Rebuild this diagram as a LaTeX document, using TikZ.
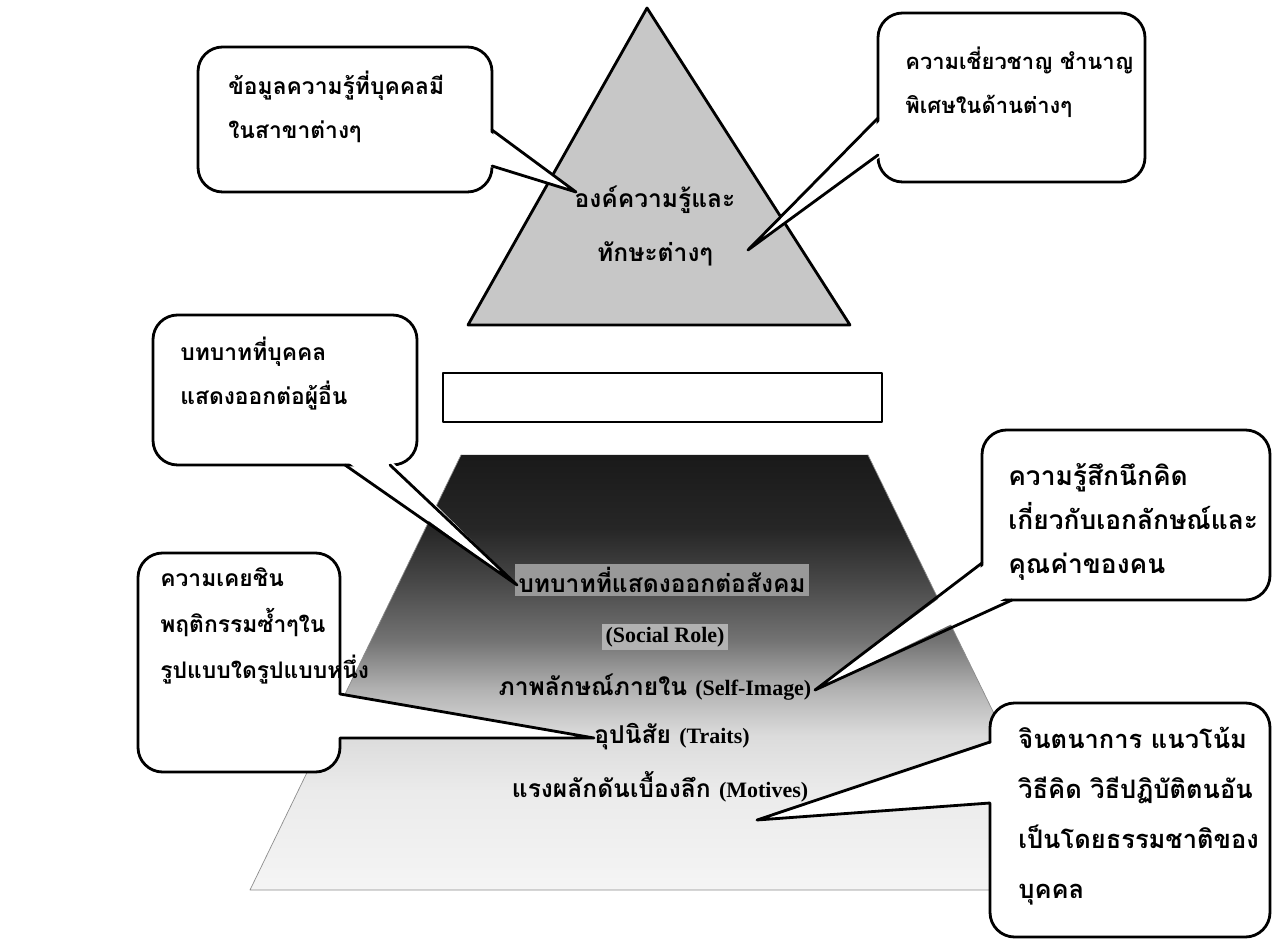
\documentclass[tikz,border=0pt]{standalone}
\usepackage{fontspec}
\setmainfont{Liberation Serif}
\newfontfamily\thaifont[Script=Thai]{Loma}
\pgfdeclareverticalshading{layers}{100bp}{color(0bp)=(black!4); color(25bp)=(black!4); color(36.5bp)=(black!8); color(42.8bp)=(black!14); color(48bp)=(black!30); color(53.7bp)=(black!55); color(60.5bp)=(black!72); color(66.5bp)=(black!85); color(75bp)=(black!90); color(100bp)=(black!90)}
\begin{document}
\begin{tikzpicture}[x=0.02cm,y=-0.02cm,line join=round,line cap=round]
	\tikzset{bubble/.style={draw,fill=white,line width=1.6pt,rounded corners=14pt},
		wedge/.style={line width=1.6pt},
		bubbletext/.style={font=\thaifont\bfseries\fontsize{#1}{25}\selectfont,align=left,anchor=west,inner sep=0pt},
		bubbletext/.default=14,
		layertext/.style={font=\thaifont\bfseries\fontsize{14}{20}\selectfont,inner sep=2pt}}
	\newcommand\eng[1]{{\rmfamily\fontsize{12.5}{14}\selectfont #1}}
	\useasboundingbox (0,0) rectangle (1285,945);
	% top triangle
	\draw[fill=black!22,line width=1.6pt] (647,8)--(850,325)--(468,325)--cycle;
	\node[layertext] (know) at (655,200) {องค์ความรู้และ};
	\node[layertext] (skill) at (655,254) {ทักษะต่างๆ};
	% empty bar
	\draw[line width=1.6pt] (443,373) rectangle (882,422);
	% lower layers
	\shade[shading=layers] (461,455)--(868,455)--(1080,890)--(250,890)--cycle;
	\draw[black!45,thin] (461,455)--(250,890)--(1080,890)--(868,455);
	\node[layertext,fill=black!40] (role) at (662,580) {บทบาทที่แสดงออกต่อสังคม};
	\node[layertext,fill=black!30] (social) at (665,637) {\eng{(Social Role)}};
	\node[layertext] (self) at (655,687) {ภาพลักษณ์ภายใน \eng{(Self-Image)}};
	\node[layertext] (trait) at (672,737) {อุปนิสัย \eng{(Traits)}};
	\node[layertext] (motive) at (660,787) {แรงผลักดันเบื้องลึก \eng{(Motives)}};
	% callout tips
	\coordinate (knowtip) at (576,192);
	\coordinate (skilltip) at (748,250);
	\coordinate (roletip) at (517,585);
	\coordinate (selftip) at (815,690);
	\coordinate (traittip) at (594,738);
	\coordinate (motivetip) at (757,820);
	% callout 1
	\draw[bubble] (198,47) rectangle (492,192);
	\fill[white] (487,130)--(knowtip)--(487,166)--cycle;
	\draw[wedge] (492,130)--(knowtip)--(492,166);
	% callout 2
	\draw[bubble] (878,13) rectangle (1145,182);
	\fill[white] (883,118)--(skilltip)--(883,155)--cycle;
	\draw[wedge] (878,118)--(skilltip)--(878,155);
	% callout 3
	\draw[bubble] (153,315) rectangle (417,465);
	\fill[white] (345,460)--(roletip)--(390,460)--cycle;
	\draw[wedge] (345,465)--(roletip)--(390,465);
	% callout 4
	\draw[bubble] (982,430) rectangle (1270,600);
	\fill[white] (987,563)--(selftip)--(1012,595)--cycle;
	\draw[wedge] (982,563)--(selftip)--(1012,600);
	% callout 5
	\draw[bubble] (138,553) rectangle (340,772);
	\fill[white] (335,694)--(traittip)--(335,738)--cycle;
	\draw[wedge] (340,694)--(traittip)--(340,738);
	% callout 6
	\draw[bubble] (990,703) rectangle (1270,937);
	\fill[white] (995,742)--(motivetip)--(995,803)--cycle;
	\draw[wedge] (990,742)--(motivetip)--(990,803);
	% callout texts
	\node[bubbletext=13] (knowtext) at (228,107) {ข้อมูลความรู้ที่บุคคลมี\\ในสาขาต่างๆ};
	\node[bubbletext=12.5] (skilltext) at (905,82) {ความเชี่ยวชาญ ชำนาญ\\พิเศษในด้านต่างๆ};
	\node[bubbletext=13] (roletext) at (180,374) {บทบาทที่บุคคล\\แสดงออกต่อผู้อื่น};
	\node[bubbletext=15] (selftext) at (1008,522) {ความรู้สึกนึกคิด\\เกี่ยวกับเอกลักษณ์และ\\คุณค่าของคน};
	\node[bubbletext,font=\thaifont\bfseries\fontsize{13}{26}\selectfont] (traittext) at (160,626) {ความเคยชิน\\พฤติกรรมซ้ำๆใน\\รูปแบบใดรูปแบบหนึ่ง};
	\node[bubbletext,font=\thaifont\bfseries\fontsize{14.5}{28.5}\selectfont] (motivetext) at (1018,816) {จินตนาการ แนวโน้ม\\วิธีคิด วิธีปฏิบัติตนอัน\\เป็นโดยธรรมชาติของ\\บุคคล};
\end{tikzpicture}
\end{document}
